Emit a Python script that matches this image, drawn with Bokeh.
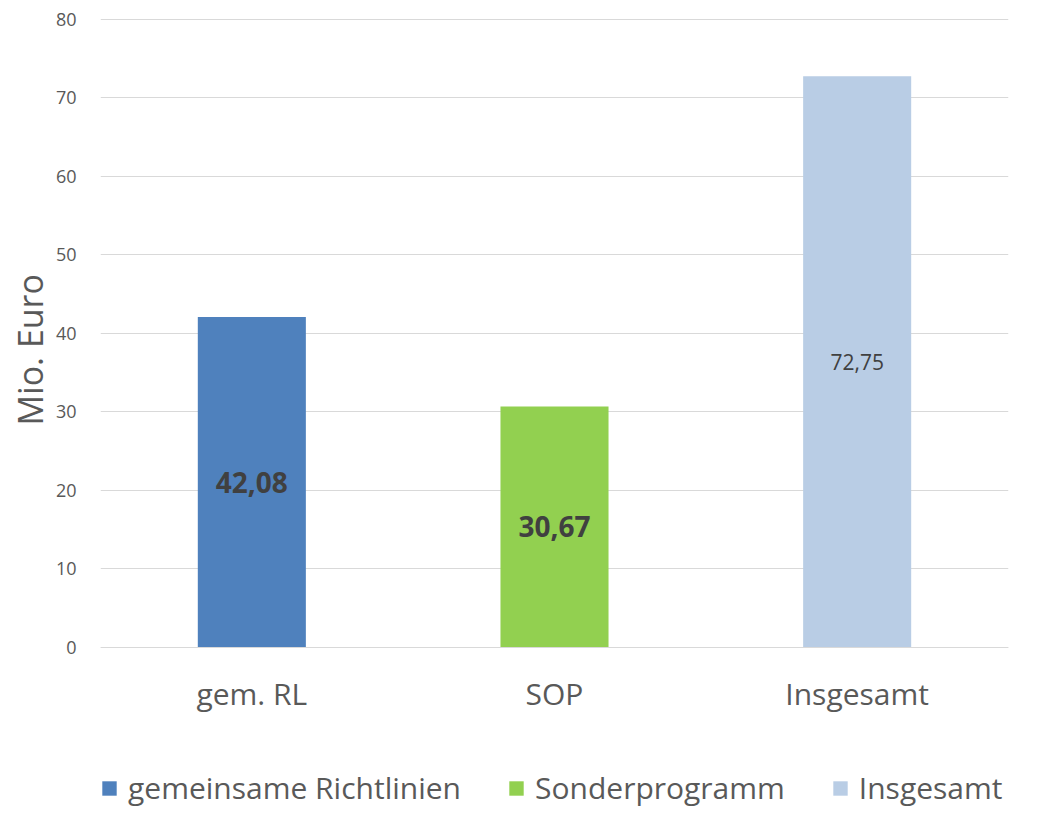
from bokeh.plotting import figure
from bokeh.models import FactorRange, Legend, LegendItem, FixedTicker, ColumnDataSource, Title
from bokeh.core.properties import value
from bokeh.embed import file_html
from bokeh.resources import INLINE

categories = ["gem. RL", "SOP", "Insgesamt"]
series_names = ["gemeinsame Richtlinien", "Sonderprogramm", "Insgesamt"]
values = [42.08, 30.67, 72.75]
colors = ["#4F81BD", "#92D050", "#B9CDE5"]
y_ticks = [0, 10, 20, 30, 40, 50, 60, 70, 80]

FONT = "Open Sans"
TXT = "#595959"

p = figure(width=1025, height=810, x_range=FactorRange(*categories), y_range=(-20.8, 80.1),
           output_backend="svg", toolbar_location=None,
           min_border_left=100, min_border_right=17, min_border_top=18, min_border_bottom=0)
p.outline_line_color = None

items = []
for i, (cat, name, v, c) in enumerate(zip(categories, series_names, values, colors)):
    src = ColumnDataSource(dict(x=[cat], top=[v], mid=[v / 2], lab=[f"{v:.2f}".replace(".", ",")]))
    r = p.vbar(x="x", top="top", bottom=0, width=0.357, source=src, fill_color=c, line_color=None)
    items.append(LegendItem(label=name, renderers=[r]))
    bold = i < 2
    p.text(x="x", y="mid", text="lab", source=src, text_align="center", text_baseline="middle",
           text_font=value(FONT), text_font_size="28px" if bold else "21px",
           text_font_style="bold" if bold else "normal", text_color="#404040")

p.xgrid.grid_line_color = None
p.ygrid.grid_line_color = "#D9D9D9"
p.ygrid.grid_line_width = 1
p.yaxis.ticker = FixedTicker(ticks=y_ticks)
p.yaxis.axis_line_color = None
p.yaxis.major_tick_line_color = None
p.yaxis.minor_tick_line_color = None
p.yaxis.major_label_text_font = FONT
p.yaxis.major_label_text_font_size = "18px"
p.yaxis.major_label_text_color = TXT
p.yaxis.major_label_standoff = 18

ytitle = Title(text="Mio. Euro", align="left", offset=385, text_font=FONT, text_font_size="34px",
               text_font_style="normal", text_color=TXT, standoff=0)
p.add_layout(ytitle, "left")

p.xaxis.fixed_location = 0
p.xaxis.axis_line_color = "#D9D9D9"
p.xaxis.major_tick_line_color = None
p.xaxis.minor_tick_line_color = None
p.xaxis.major_label_text_font = FONT
p.xaxis.major_label_text_font_size = "30px"
p.xaxis.major_label_text_color = TXT
p.xaxis.major_label_standoff = 20

legend = Legend(items=items, orientation="horizontal", location=(0, 2),
                label_text_font=FONT, label_text_font_size="30px", label_text_color=TXT,
                glyph_width=18, glyph_height=18, label_standoff=10, spacing=46,
                border_line_color=None, background_fill_alpha=0, margin=0, padding=0)
p.add_layout(legend, "center")

open("out.html", "w").write(file_html(p, INLINE))
